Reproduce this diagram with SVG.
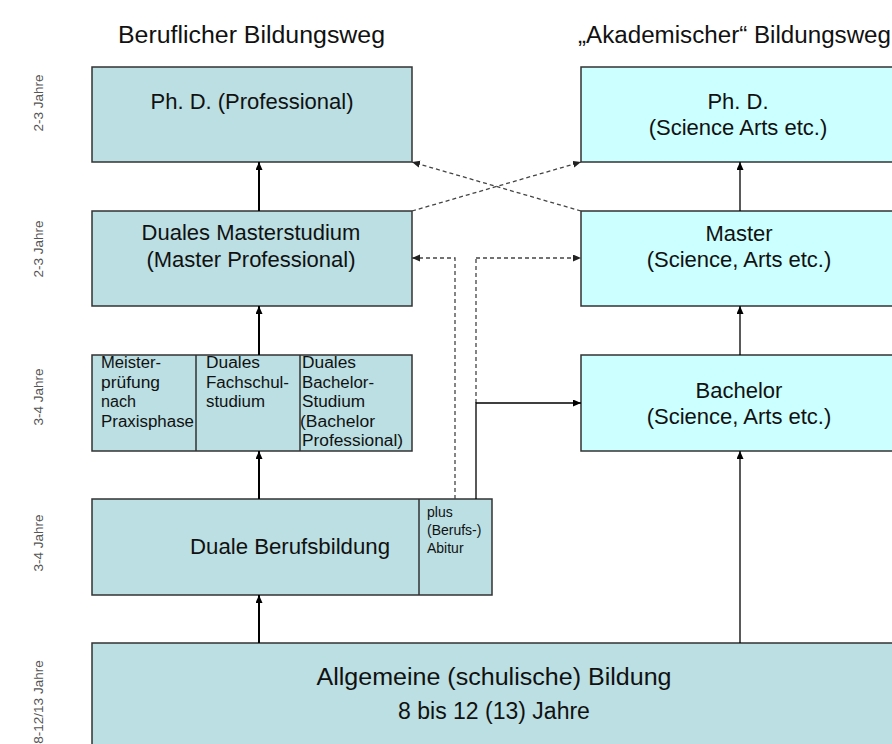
<svg xmlns="http://www.w3.org/2000/svg" width="892" height="744" viewBox="0 0 892 744">
<defs>
<marker id="ah" markerUnits="userSpaceOnUse" markerWidth="9" markerHeight="8" refX="8" refY="3.5" orient="auto">
<path d="M0,0 L8,3.5 L0,7 z" fill="#000"/>
</marker>
<marker id="ahg" markerUnits="userSpaceOnUse" markerWidth="9" markerHeight="8" refX="8" refY="3.5" orient="auto">
<path d="M0,0 L8,3.5 L0,7 z" fill="#222"/>
</marker>
</defs>
<style>
text{font-family:"Liberation Sans",Arial,sans-serif;fill:#111}
.t{font-size:23px}
.b{font-size:22px;text-anchor:middle}
.s{font-size:16px}
.xs{font-size:14px}
.y{font-size:13.5px;fill:#555;text-anchor:middle}
.lb{fill:#bbdfe2;stroke:#333;stroke-width:1.5}
.rb{fill:#ccffff;stroke:#333;stroke-width:1.5}
.dv{stroke:#333;stroke-width:1.5}
.sa{stroke:#000;stroke-width:2;fill:none;marker-end:url(#ah)}
.sat{stroke:#000;stroke-width:1.3;fill:none;marker-end:url(#ah)}
.ln{stroke:#000;stroke-width:1.3;fill:none}
.da{stroke:#444;stroke-width:1.3;stroke-dasharray:4 3;fill:none;marker-end:url(#ahg)}
.dl{stroke:#444;stroke-width:1.3;stroke-dasharray:4 3;fill:none}
</style>
<rect width="892" height="744" fill="#fff"/>
<g id="titles">
<text class="t" x="118" y="43" textLength="267" lengthAdjust="spacingAndGlyphs">Beruflicher Bildungsweg</text>
<text class="t" x="578" y="43" textLength="313" lengthAdjust="spacingAndGlyphs">„Akademischer“ Bildungsweg</text>
</g>
<g id="years">
<text class="y" transform="translate(43,103) rotate(-90)">2-3 Jahre</text>
<text class="y" transform="translate(43,249) rotate(-90)">2-3 Jahre</text>
<text class="y" transform="translate(43,397) rotate(-90)">3-4 Jahre</text>
<text class="y" transform="translate(43,543) rotate(-90)">3-4 Jahre</text>
<text class="y" transform="translate(43,702) rotate(-90)">8-12/13 Jahre</text>
</g>
<g id="phd-prof">
<rect class="lb" x="92" y="67" width="320" height="95"/>
<text class="b" x="252" y="109">Ph. D. (Professional)</text>
</g>
<g id="phd-akad">
<rect class="rb" x="581" y="67" width="320" height="95"/>
<text class="b" x="738" y="109">Ph. D.</text>
<text class="b" x="738" y="135">(Science Arts etc.)</text>
</g>
<g id="master-dual">
<rect class="lb" x="92" y="211" width="320" height="95"/>
<text class="b" x="251" y="240">Duales Masterstudium</text>
<text class="b" x="251" y="267">(Master Professional)</text>
</g>
<g id="master-akad">
<rect class="rb" x="581" y="211" width="320" height="95"/>
<text class="b" x="739" y="241">Master</text>
<text class="b" x="739" y="267">(Science, Arts etc.)</text>
</g>
<g id="bachelor-dual">
<rect class="lb" x="92" y="355" width="320" height="96"/>
<line class="dv" x1="196" y1="355" x2="196" y2="451"/>
<line class="dv" x1="300" y1="355" x2="300" y2="451"/>
<text class="s" x="101" y="368" textLength="60" lengthAdjust="spacingAndGlyphs">Meister-</text>
<text class="s" x="101" y="387.5" textLength="59" lengthAdjust="spacingAndGlyphs">prüfung</text>
<text class="s" x="101" y="407" textLength="35" lengthAdjust="spacingAndGlyphs">nach</text>
<text class="s" x="101" y="426.5" textLength="93" lengthAdjust="spacingAndGlyphs">Praxisphase</text>
<text class="s" x="206" y="368" textLength="54" lengthAdjust="spacingAndGlyphs">Duales</text>
<text class="s" x="206" y="387.5" textLength="83" lengthAdjust="spacingAndGlyphs">Fachschul-</text>
<text class="s" x="206" y="407" textLength="59" lengthAdjust="spacingAndGlyphs">studium</text>
<text class="s" x="302" y="368" textLength="54" lengthAdjust="spacingAndGlyphs">Duales</text>
<text class="s" x="302" y="387.5" textLength="72" lengthAdjust="spacingAndGlyphs">Bachelor-</text>
<text class="s" x="302" y="407" textLength="63" lengthAdjust="spacingAndGlyphs">Studium</text>
<text class="s" x="300" y="426.5" textLength="75" lengthAdjust="spacingAndGlyphs">(Bachelor</text>
<text class="s" x="302" y="446" textLength="101" lengthAdjust="spacingAndGlyphs">Professional)</text>
</g>
<g id="bachelor-akad">
<rect class="rb" x="581" y="355" width="320" height="96"/>
<text class="b" x="739" y="398">Bachelor</text>
<text class="b" x="739" y="424">(Science, Arts etc.)</text>
</g>
<g id="berufsbildung">
<rect class="lb" x="92" y="499" width="400" height="96"/>
<line class="dv" x1="419" y1="499" x2="419" y2="595"/>
<text x="190" y="554" font-size="22" textLength="200" lengthAdjust="spacingAndGlyphs">Duale Berufsbildung</text>
<text class="xs" x="427" y="517">plus</text>
<text class="xs" x="427" y="535">(Berufs-)</text>
<text class="xs" x="427" y="553">Abitur</text>
</g>
<g id="allgemein">
<rect class="lb" x="92" y="643" width="810" height="110"/>
<text x="494" y="685" font-size="23" text-anchor="middle" textLength="355" lengthAdjust="spacingAndGlyphs">Allgemeine (schulische) Bildung</text>
<text x="494" y="719" font-size="23" text-anchor="middle">8 bis 12 (13) Jahre</text>
</g>
<g id="connectors">
<line class="sa" x1="259" y1="211" x2="259" y2="162"/>
<line class="sa" x1="259" y1="355" x2="259" y2="306"/>
<line class="sa" x1="259" y1="499" x2="259" y2="451"/>
<line class="sa" x1="259" y1="643" x2="259" y2="595"/>
<line class="sat" x1="740" y1="211" x2="740" y2="162"/>
<line class="sat" x1="740" y1="355" x2="740" y2="306"/>
<line class="sat" x1="740" y1="643" x2="740" y2="451"/>
<line class="da" x1="412" y1="211" x2="581" y2="162"/>
<line class="da" x1="581" y1="211" x2="412" y2="162"/>
<polyline class="da" points="455,499 455,258 412,258"/>
<polyline class="dl" points="476,403 476,258"/>
<polyline class="da" points="476,258 581,258"/>
<polyline class="sat" points="476,499 476,403 581,403"/>
</g>
</svg>
